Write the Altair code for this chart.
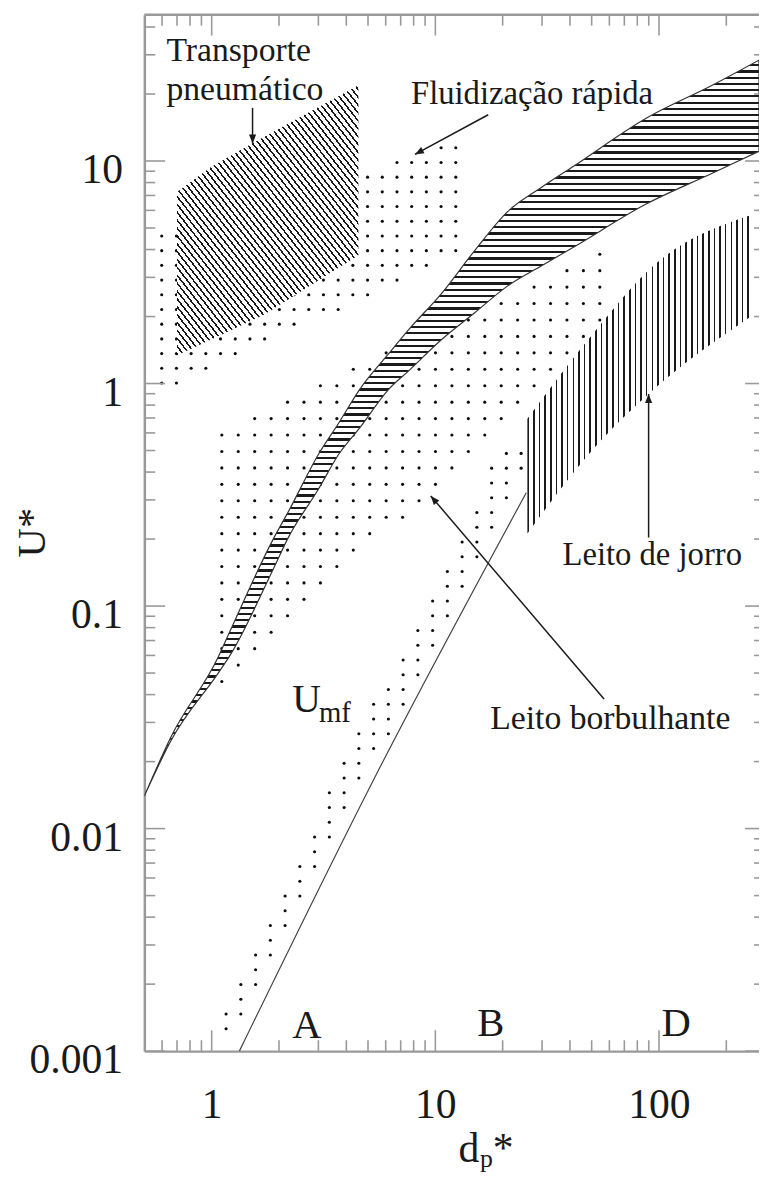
import math
import numpy as np
import pandas as pd
import altair as alt

FONT = "Liberation Serif"
INK = "#1a1a1a"
FRAME = "#999999"

# ---------------- axes ----------------
x_domain = [0.5, 280]
y_domain = [0.001, 45.4]
x_major = [1, 10, 100]
x_minor = [0.6, 0.7, 0.8, 0.9, 2, 3, 4, 5, 6, 7, 8, 9,
           20, 30, 40, 50, 60, 70, 80, 90, 200]
y_major = [0.001, 0.01, 0.1, 1, 10]
y_minor = [0.002, 0.003, 0.004, 0.005, 0.006, 0.007, 0.008, 0.009,
           0.02, 0.03, 0.04, 0.05, 0.06, 0.07, 0.08, 0.09,
           0.2, 0.3, 0.4, 0.5, 0.6, 0.7, 0.8, 0.9,
           2, 3, 4, 5, 6, 7, 8, 9, 20, 30, 40]

# ---------------- regions ----------------
# terminal-velocity band (horizontal hatching)
band_x = [0.5, 0.66, 1.07, 1.2, 1.9, 2.2, 3.0, 3.7, 4.6, 6.2, 7.6, 10.7,
          15, 21, 30, 42, 88, 173, 280]
band_upper = [0.014, 0.026, 0.059, 0.076, 0.203, 0.265, 0.48, 0.665, 0.944,
              1.365, 1.746, 2.55, 3.96, 5.91, 7.64, 9.55, 15.6, 21.9, 28.4]
band_lower = [0.014, 0.025, 0.050, 0.0594, 0.149, 0.203, 0.335, 0.481, 0.634,
              0.944, 1.14, 1.58, 2.08, 2.74, 3.39, 4.13, 6.42, 8.81, 11.05]

# pneumatic transport (diagonal hatching)
pneu_x = [0.7, 0.99, 1.49, 1.72, 4.53]
pneu_upper = [7.26, 9.37, 11.87, 12.85, 21.9]
pneu_lower = [1.34, 1.575, 1.91, 2.04, 3.77]

# spouted bed (vertical hatching)
spout_x = [25.8, 51.1, 94.1, 252.7]
spout_upper = [0.695, 1.69, 3.37, 5.67]
spout_lower = [0.212, 0.511, 0.935, 1.976]

# minimum fluidization line
umf_x = [1.33, 5.34, 25.5]
umf_y = [0.001, 0.01685, 0.323]

# dotted regions (outlines)
fast_px = [0.567, 12.9, 12.9, 0.567]
fast_py = [4.82, 12.4, 3.886, 0.889]
bub_px = [1.055, 56.6, 56.6, 1.055]
bub_py = [0.627, 3.96, 1.955, 0.0375]
geld_px = [1.003, 3.27, 5.72, 11.67, 19.4, 25.8, 24.05, 1.22]
geld_py = [0.001175, 0.01373, 0.0424, 0.1605, 0.521, 0.521, 0.3644, 0.001175]

# ---------------- layout ----------------
W, H = 620.8, 1046.7
PAD = {"left": 137.7, "top": 1, "right": 0, "bottom": 124}
LX0, LX1 = math.log10(x_domain[0]), math.log10(x_domain[1])
LY0, LY1 = math.log10(y_domain[0]), math.log10(y_domain[1])
PPD_X = W / (LX1 - LX0)
PPD_Y = H / (LY1 - LY0)

xs = alt.Scale(type="log", domain=x_domain, nice=False)
ys = alt.Scale(type="log", domain=y_domain, nice=False)
x_axis = alt.Axis(values=x_major, format="~g", labelFont=FONT, labelFontSize=42,
                  labelColor=INK, labelPadding=34, labelBaseline="top",
                  ticks=False, tickSize=0, grid=False, domainColor=FRAME,
                  domainWidth=2.5, title=None, labelFlush=False, labelOverlap=False)
y_axis = alt.Axis(values=y_major, format="~g", labelFont=FONT, labelFontSize=42,
                  labelColor=INK, labelPadding=22, labelBaseline="middle",
                  labelOffset=9, ticks=False, tickSize=0, grid=False,
                  domainColor=FRAME, domainWidth=2.5, title=None,
                  labelFlush=False, labelOverlap=False)


def X(f):
    return alt.X(f, scale=xs, axis=x_axis)


def Y(f):
    return alt.Y(f, scale=ys, axis=y_axis)


# ---------------- textures ----------------
def in_poly(x, y, vx, vy):
    inside = np.zeros(x.shape, dtype=bool)
    n = len(vx)
    j = n - 1
    with np.errstate(divide="ignore", invalid="ignore"):
        for i in range(n):
            xi, yi, xj, yj = vx[i], vy[i], vx[j], vy[j]
            cross = (yi > y) != (yj > y)
            xint = (xj - xi) * (y - yi) / (yj - yi) + xi
            inside ^= cross & (x < xint)
            j = i
    return inside


def dot_texture(px, py, anchor, step):
    lx, ly = np.log10(px), np.log10(py)
    ax, ay = math.log10(anchor[0]), math.log10(anchor[1])
    sx, sy = step / PPD_X, step / PPD_Y
    ii = np.arange(math.floor((lx.min() - ax) / sx), math.ceil((lx.max() - ax) / sx) + 1)
    jj = np.arange(math.floor((ly.min() - ay) / sy), math.ceil((ly.max() - ay) / sy) + 1)
    gx, gy = np.meshgrid(ax + sx * ii, ay + sy * jj)
    gx, gy = gx.ravel(), gy.ravel()
    m = in_poly(gx, gy, lx, ly)
    return pd.DataFrame({"x": 10 ** gx[m], "y": 10 ** gy[m]})


def stripes(angle_deg, period, xs_, hi, lo, frac, dark="#1a1a1a"):
    bw = (math.log10(max(xs_)) - math.log10(min(xs_))) * PPD_X
    bh = (math.log10(max(hi)) - math.log10(min(lo))) * PPD_Y
    a = math.radians(angle_deg)
    dx, dy = math.cos(a), math.sin(a)
    gx, gy = dy / bh, -dx / bw
    n = math.hypot(gx, gy)
    ux, uy = gx / n, gy / n
    corners = [(0, 0), (1, 0), (0, 1), (1, 1)]
    proj = [cx * ux + cy * uy for cx, cy in corners]
    pmin, pmax = min(proj), max(proj)
    nx, ny = -dy, dx
    spn = [cx * bw * nx + cy * bh * ny for cx, cy in corners]
    count = (max(spn) - min(spn)) / period
    stops = []
    k = 0
    while k < count:
        o0 = k / count
        o1 = min((k + frac) / count, 1.0)
        o2 = min((k + 1) / count, 1.0)
        stops += [alt.GradientStop(color=dark, offset=o0),
                  alt.GradientStop(color=dark, offset=o1),
                  alt.GradientStop(color="white", offset=o1),
                  alt.GradientStop(color="white", offset=o2)]
        k += 1
    return alt.Gradient(gradient="linear", stops=stops,
                        x1=ux * pmin, y1=uy * pmin, x2=ux * pmax, y2=uy * pmax)


def dots_layer(df):
    return alt.Chart(df).mark_circle(size=10, color="#0d0d0d", opacity=1, clip=True).encode(
        x=X("x:Q"), y=Y("y:Q"))


def area_layer(xv, hi, lo, fill, **kw):
    df = pd.DataFrame({"x": xv, "hi": hi, "lo": lo})
    return alt.Chart(df).mark_area(fill=fill, clip=True, **kw).encode(
        x=X("x:Q"), y=Y("hi:Q"), y2="lo:Q")


layers = []
layers.append(dots_layer(dot_texture(fast_px, fast_py, (0.598, 11.47), 14.85)))
layers.append(area_layer(pneu_x, pneu_upper, pneu_lower,
                         stripes(52, 4.9, pneu_x, pneu_upper, pneu_lower, 0.32)))
layers.append(dots_layer(dot_texture(bub_px, bub_py, (1.110, 0.587), 16.6)))
layers.append(dots_layer(dot_texture(geld_px, geld_py, (1.160, 0.00126), 14.9)))
layers.append(area_layer(band_x, band_upper, band_lower,
                         stripes(0, 6.3, band_x, band_upper, band_lower, 0.35),
                         stroke="#333333", strokeWidth=1.2, interpolate="monotone"))
layers.append(area_layer(spout_x, spout_upper, spout_lower,
                         stripes(90, 5.7, spout_x, spout_upper, spout_lower, 0.28),
                         interpolate="monotone"))
layers.append(alt.Chart(pd.DataFrame({"x": umf_x, "y": umf_y})).mark_line(
    color="#444444", strokeWidth=1.2, clip=True, interpolate="monotone").encode(
    x=X("x:Q"), y=Y("y:Q")))

# ---------------- ticks & frame ----------------
def tick_layer(vals, side, length):
    ch = alt.Chart(pd.DataFrame({"v": vals})).mark_rule(color=FRAME, strokeWidth=1.6)
    if side == "bottom":
        return ch.encode(x=X("v:Q"), y=alt.value(H), y2=alt.value(H - length))
    if side == "top":
        return ch.encode(x=X("v:Q"), y=alt.value(0), y2=alt.value(length))
    if side == "left":
        return ch.encode(y=Y("v:Q"), x=alt.value(0), x2=alt.value(length))
    return ch.encode(y=Y("v:Q"), x=alt.value(W - length), x2=alt.value(W))


for side in ["bottom", "top"]:
    layers.append(tick_layer(x_major, side, 21))
    layers.append(tick_layer(x_minor, side, 11))
layers.append(tick_layer(y_major, "left", 21))
layers.append(tick_layer(y_minor, "left", 11))
layers.append(tick_layer(y_major, "right", 14))
layers.append(tick_layer(y_minor, "right", 5))
layers.append(alt.Chart(pd.DataFrame({"a": [0]})).mark_rule(
    color=FRAME, strokeWidth=2.5).encode(x=alt.value(0), x2=alt.value(W), y=alt.value(0)))

# ---------------- annotations ----------------
arrows = [  # (x1, y1) -> tip (x2, y2), pixels inside the plot
    (109.3, 94, 109.3, 130),
    (347.3, 101, 273.3, 141),
    (509.3, 528, 509.3, 383),
    (464.3, 691, 289.3, 486),
]
head = "M0,0L0.4,1L-0.4,1Z"
for x1, y1, x2, y2 in arrows:
    one = pd.DataFrame({"a": [0]})
    layers.append(alt.Chart(one).mark_rule(color=INK, strokeWidth=1.5).encode(
        x=alt.value(x1), y=alt.value(y1), x2=alt.value(x2), y2=alt.value(y2)))
    ang = math.degrees(math.atan2(x2 - x1, -(y2 - y1))) % 360
    layers.append(alt.Chart(one).mark_point(shape=head, size=324, filled=True,
                                            color=INK, opacity=1, angle=ang).encode(
        x=alt.value(x2), y=alt.value(y2)))

labels = [  # text, x, y (baseline), font size
    ("Transporte", 22.3, 47, 34),
    ("pneumático", 22.3, 86, 34),
    ("Fluidização rápida", 269.3, 90.3, 33),
    ("Leito de jorro", 422.3, 556, 33),
    ("Leito borbulhante", 349.3, 721, 34),
    ("U", 149.3, 704, 40),
    ("mf", 176.3, 714, 29),
    ("A", 149.3, 1033, 41),
    ("B", 336.3, 1031, 41),
    ("D", 522.3, 1031, 41),
    ("d", 317.3, 1159, 42),
    ("p", 339.0, 1164, 26),
    ("*", 352.0, 1159, 42),
]
for t, x, y, fs in labels:
    layers.append(alt.Chart(pd.DataFrame({"t": [t]})).mark_text(
        align="left", baseline="alphabetic", font=FONT, fontSize=fs, color=INK).encode(
        x=alt.value(x), y=alt.value(y), text="t:N"))

layers.append(alt.Chart(pd.DataFrame({"t": ["U*"]})).mark_text(
    align="center", baseline="alphabetic", font=FONT, fontSize=41, color=INK,
    angle=270).encode(x=alt.value(-100.7), y=alt.value(523), text="t:N"))

chart = alt.layer(*layers).properties(
    width=W, height=H, padding=PAD,
    autosize=alt.AutoSizeParams(type="none"), background="white"
).configure_view(stroke="transparent")

chart.save("out.html", embed_options={"renderer": "svg", "actions": False})
